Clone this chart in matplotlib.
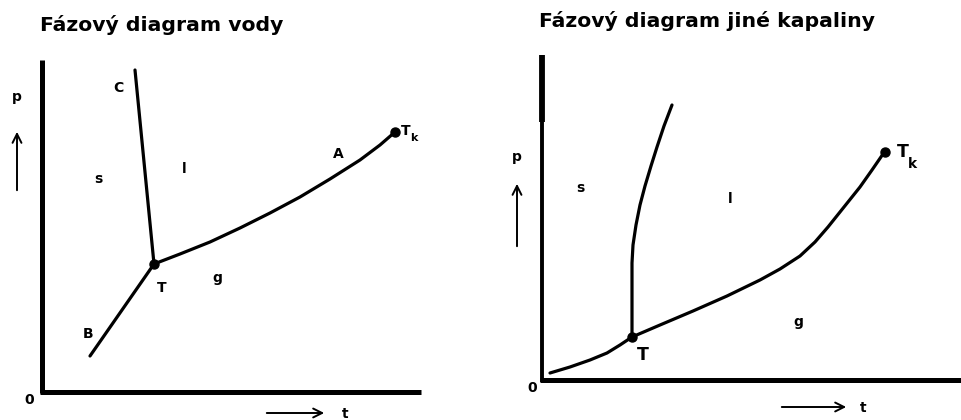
import numpy as np
import matplotlib.pyplot as plt

plt.rcParams['font.family'] = ['DejaVu Sans']
plt.rcParams['font.weight'] = 'bold'

# --- Fázový diagram vody (levý panel), souřadnice v pixelech obrázku ---
voda_C = np.array([[135, 70], [154, 264]])          # křivka tání (záporný sklon)
voda_A = np.array([[154, 264], [180, 254], [210, 242], [240, 228],
                   [270, 213], [300, 197], [330, 179], [360, 160],
                   [380, 145], [395, 132]])         # křivka vypařování
voda_B = np.array([[90, 356], [154, 264]])          # křivka sublimace
voda_T = (154, 264)
voda_Tk = (395, 132)

# --- Fázový diagram jiné kapaliny (pravý panel) ---
jina_tani = np.array([[632, 337], [632, 263], [633, 245], [636, 225],
                      [640, 205], [645, 186], [651, 166], [657, 147],
                      [664, 126], [672, 105]])
jina_var = np.array([[550, 373], [570, 367], [590, 360], [607, 353],
                     [620, 345], [632, 337], [646, 331], [660, 325],
                     [693, 311], [727, 296], [760, 280], [780, 269],
                     [800, 256], [815, 242], [828, 227], [840, 212],
                     [860, 187], [872, 170], [883, 154]])
jina_T = (632, 337)
jina_Tk = (885, 152)

fig = plt.figure(figsize=(9.61, 4.20), dpi=100)
ax = fig.add_axes([0, 0, 1, 1])
ax.set_xlim(0, 961)
ax.set_ylim(420, 0)
ax.axis('off')

lw_osa = 3.6
lw_kr = 2.3

# osy levého grafu
ax.plot([42, 42], [60, 393], color='black', lw=lw_osa, solid_capstyle='butt')
ax.plot([40, 421], [392, 392], color='black', lw=lw_osa, solid_capstyle='butt')
# osy pravého grafu (horní část svislé osy je tlustší)
ax.plot([542, 542], [55, 122], color='black', lw=4.2, solid_capstyle='butt')
ax.plot([542, 542], [122, 382], color='black', lw=2.8, solid_capstyle='butt')
ax.plot([540, 961], [380, 380], color='black', lw=lw_osa, solid_capstyle='butt')

for krivka in (voda_C, voda_A, voda_B, jina_tani, jina_var):
    ax.plot(krivka[:, 0], krivka[:, 1], color='black', lw=lw_kr,
            solid_capstyle='round', solid_joinstyle='round')

for bod in (voda_T, voda_Tk, jina_T, jina_Tk):
    ax.plot(*bod, 'o', color='black', ms=6.5)

# šipky p a t
sipka = dict(arrowstyle='->', color='black', lw=1.4, mutation_scale=16)
ax.annotate('', xy=(17, 129), xytext=(17, 193), arrowprops=sipka)
ax.annotate('', xy=(327, 413), xytext=(264, 413), arrowprops=sipka)
ax.annotate('', xy=(517, 181), xytext=(517, 249), arrowprops=sipka)
ax.annotate('', xy=(849, 407), xytext=(779, 407), arrowprops=sipka)

# nadpisy
ax.text(40, 25, 'Fázový diagram vody', fontsize=14.7, va='center', ha='left')
ax.text(539, 21, 'Fázový diagram jiné kapaliny', fontsize=14.7, va='center', ha='left')

# popisky levého grafu
mal = dict(fontsize=10, ha='center', va='center')
ax.text(17, 97, 'p', **mal)
ax.text(345, 414, 't', **mal)
ax.text(29, 400, '0', **mal)
ax.text(118, 88, 'C', **mal)
ax.text(98, 179, 's', **mal)
ax.text(184, 169, 'l', **mal)
ax.text(338, 154, 'A', **mal)
ax.text(162, 288, 'T', **mal)
ax.text(217, 278, 'g', **mal)
ax.text(88, 334, 'B', **mal)
ax.text(406, 131, 'T', **mal)
ax.text(414, 138, 'k', fontsize=8, ha='center', va='center')

# popisky pravého grafu
ax.text(517, 157, 'p', **mal)
ax.text(863, 408, 't', **mal)
ax.text(532, 388, '0', **mal)
ax.text(580, 188, 's', **mal)
ax.text(730, 199, 'l', **mal)
ax.text(798, 322, 'g', **mal)
ax.text(643, 355, 'T', fontsize=12.5, ha='center', va='center')
ax.text(903, 152, 'T', fontsize=12.5, ha='center', va='center')
ax.text(912, 164, 'k', fontsize=10, ha='center', va='center')

fig.savefig('out.png', dpi=100)
